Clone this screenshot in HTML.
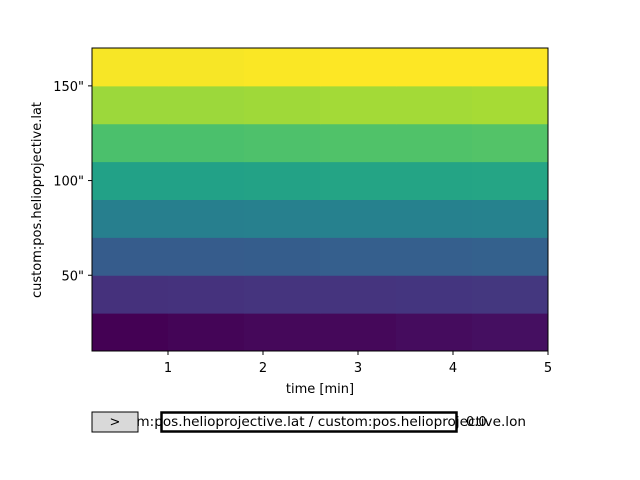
<!DOCTYPE html>
<html><head><meta charset="utf-8"><style>
body{margin:0;background:#fff}
svg{display:block;font-family:"DejaVu Sans","Liberation Sans",sans-serif}
</style></head><body>
<svg id="c" width="640" height="480">
<g id="cells"></g>
<rect x="92" y="48" width="456" height="303" fill="none" stroke="#000" stroke-width="1"/>
<g id="xt"></g>
<g id="yt"></g>
<text x="320" y="393" font-size="13" text-anchor="middle">time [min]</text>
<text transform="translate(41,200) rotate(-90)" font-size="13" text-anchor="middle">custom:pos.helioprojective.lat</text>
<text x="526" y="426" font-size="13.6" text-anchor="end">custom:pos.helioprojective.lat / custom:pos.helioprojective.lon</text>
<rect x="92" y="412" width="46" height="20" fill="#d9d9d9" stroke="#000" stroke-width="1"/>
<text x="115" y="426" font-size="13" text-anchor="middle">&gt;</text>
<rect x="161.5" y="412.5" width="295" height="19" fill="none" stroke="#000" stroke-width="2.5"/>
<text x="466" y="426" font-size="13">0.0</text>
</svg>
<script>
const rowEdges=[10,30,50,70,90,110,130,150,170];
const colEdges=[0.2,1.0,1.8,2.6,3.4,4.2,5.0];
const values=[
[0.00,0.01,0.02,0.02,0.03,0.04],
[0.14,0.145,0.15,0.15,0.155,0.16],
[0.29,0.29,0.295,0.30,0.30,0.31],
[0.43,0.43,0.435,0.44,0.44,0.445],
[0.57,0.57,0.575,0.58,0.58,0.585],
[0.71,0.71,0.715,0.72,0.72,0.725],
[0.85,0.85,0.855,0.86,0.86,0.865],
[0.99,0.99,0.995,1.0,1.0,1.0]];
const xTicks=[1,2,3,4,5];
const yTicks=[50,100,150];
const vir=["#440154","#482878","#3e4989","#31688e","#26828e","#1f9e89","#35b779","#6ece58","#b5de2b","#fde725"];
function X(v){return 92+(v-0.2)*95;}
function Y(v){return 351-(v-10)*1.89375;}
function hex(h){return [1,3,5].map(i=>parseInt(h.substr(i,2),16));}
function cmap(t){t=Math.max(0,Math.min(1,t))*(vir.length-1);const i=Math.min(vir.length-2,Math.floor(t)),f=t-i;const a=hex(vir[i]),b=hex(vir[i+1]);return "rgb("+a.map((v,k)=>Math.round(v+(b[k]-v)*f)).join(",")+")";}
const NS="http://www.w3.org/2000/svg";
const cells=document.getElementById("cells");
values.forEach((row,r)=>row.forEach((v,c)=>{
const e=document.createElementNS(NS,"rect");
e.setAttribute("x",X(colEdges[c]));e.setAttribute("width",X(colEdges[c+1])-X(colEdges[c])+0.5);
e.setAttribute("y",Y(rowEdges[r+1]));e.setAttribute("height",Y(rowEdges[r])-Y(rowEdges[r+1])+0.5);
e.setAttribute("fill",cmap(v));


cells.appendChild(e);}));
const xt=document.getElementById("xt");
xTicks.forEach(t=>{const x=X(t);
const l=document.createElementNS(NS,"line");l.setAttribute("x1",x);l.setAttribute("x2",x);l.setAttribute("y1",351);l.setAttribute("y2",355);l.setAttribute("stroke","#000");


xt.appendChild(l);
const s=document.createElementNS(NS,"text");s.setAttribute("x",x);s.setAttribute("y",372);s.setAttribute("font-size","13");s.setAttribute("text-anchor","middle");s.textContent=t;


xt.appendChild(s);});
const yt=document.getElementById("yt");
yTicks.forEach(t=>{const y=Y(t);
const l=document.createElementNS(NS,"line");l.setAttribute("x1",88);l.setAttribute("x2",92);l.setAttribute("y1",y);l.setAttribute("y2",y);l.setAttribute("stroke","#000");


yt.appendChild(l);
const s=document.createElementNS(NS,"text");s.setAttribute("x",84);s.setAttribute("y",y+5);s.setAttribute("font-size","13");s.setAttribute("text-anchor","end");s.textContent=t+'"';


yt.appendChild(s);});
</script>
</body></html>
